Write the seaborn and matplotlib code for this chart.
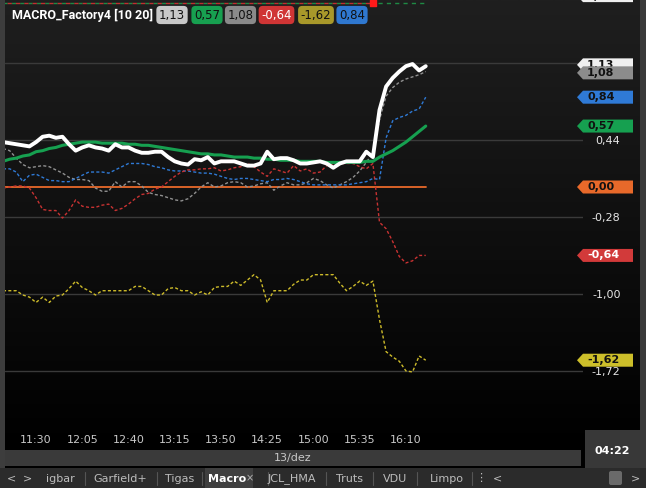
import numpy as np
import matplotlib
matplotlib.use("Agg")
import matplotlib.pyplot as plt
import seaborn as sns
from matplotlib.patches import Polygon, Rectangle, FancyBboxPatch
from matplotlib.colors import LinearSegmentedColormap
from matplotlib.transforms import blended_transform_factory

# ---------------- data ----------------
start_min = 11 * 60 + 5          # first 5-min bar 11:05
bar_step = 5
tick_labels = ["11:30", "12:05", "12:40", "13:15", "13:50", "14:25", "15:00", "15:35", "16:10"]
date_label = "13/dez"
clock_label = "04:22"
title = "MACRO_Factory4 [10 20]"

white = [0.42, 0.41, 0.40, 0.39, 0.38, 0.42, 0.47, 0.48, 0.46, 0.47,
         0.40, 0.34, 0.37, 0.39, 0.37, 0.36, 0.34, 0.40, 0.37, 0.37,
         0.34, 0.32, 0.32, 0.33, 0.33, 0.28, 0.24, 0.22, 0.21, 0.26,
         0.25, 0.28, 0.22, 0.24, 0.24, 0.24, 0.22, 0.20, 0.20, 0.22,
         0.33, 0.26, 0.27, 0.27, 0.25, 0.22, 0.22, 0.23, 0.24, 0.22,
         0.18, 0.22, 0.24, 0.24, 0.24, 0.33, 0.28, 0.72, 0.94, 1.02,
         1.08, 1.13, 1.15, 1.09, 1.13]
green = [0.24, 0.26, 0.27, 0.29, 0.30, 0.33, 0.34, 0.36, 0.37, 0.39,
         0.40, 0.41, 0.42, 0.42, 0.42, 0.41, 0.41, 0.41, 0.41, 0.40,
         0.40, 0.39, 0.39, 0.38, 0.37, 0.36, 0.35, 0.34, 0.33, 0.32,
         0.31, 0.31, 0.30, 0.30, 0.29, 0.28, 0.28, 0.28, 0.27, 0.27,
         0.26, 0.26, 0.25, 0.25, 0.25, 0.24, 0.24, 0.24, 0.24, 0.23,
         0.23, 0.23, 0.23, 0.23, 0.23, 0.24, 0.24, 0.28, 0.31, 0.34,
         0.38, 0.42, 0.47, 0.52, 0.57]
gray = [0.36, 0.34, 0.27, 0.21, 0.18, 0.19, 0.20, 0.19, 0.16, 0.13,
        0.09, 0.07, 0.07, 0.06, -0.01, -0.04, -0.04, 0.05, 0.00, 0.05,
        0.05, 0.01, -0.05, -0.07, -0.08, -0.10, -0.12, -0.13, -0.11, -0.06,
        0.00, 0.04, 0.00, 0.01, 0.04, 0.05, 0.04, 0.00, 0.01, 0.03,
        0.04, -0.03, 0.01, 0.04, 0.02, 0.02, 0.04, 0.08, 0.06, 0.02,
        -0.01, 0.02, 0.05, 0.09, 0.15, 0.23, 0.32, 0.63, 0.85, 0.93,
        0.98, 1.01, 1.03, 1.05, 1.08]
red = [-0.01, 0.00, 0.01, 0.01, -0.01, -0.10, -0.21, -0.22, -0.22, -0.29,
       -0.22, -0.12, -0.18, -0.19, -0.19, -0.17, -0.16, -0.22, -0.20, -0.16,
       -0.11, -0.07, -0.06, -0.02, 0.00, 0.05, 0.10, 0.14, 0.16, 0.16,
       0.17, 0.17, 0.18, 0.15, 0.16, 0.18, 0.19, 0.22, 0.19, 0.14,
       0.10, 0.17, 0.15, 0.13, 0.20, 0.15, 0.17, 0.13, 0.14, 0.20,
       0.22, 0.22, 0.22, 0.22, 0.19, 0.17, 0.22, -0.33, -0.39, -0.51,
       -0.65, -0.71, -0.69, -0.64, -0.64]
blue = [0.17, 0.17, 0.14, 0.05, 0.11, 0.12, 0.09, 0.06, 0.06, 0.05,
        0.05, 0.08, 0.11, 0.14, 0.14, 0.14, 0.13, 0.16, 0.19, 0.22,
        0.22, 0.22, 0.21, 0.19, 0.18, 0.16, 0.15, 0.15, 0.15, 0.14,
        0.13, 0.13, 0.12, 0.10, 0.08, 0.07, 0.08, 0.08, 0.07, 0.06,
        0.05, 0.07, 0.07, 0.08, 0.07, 0.05, 0.03, 0.02, 0.02, 0.02,
        0.02, 0.02, 0.02, 0.03, 0.04, 0.05, 0.08, 0.07, 0.46, 0.62,
        0.65, 0.67, 0.71, 0.73, 0.84]
yellow = [-0.97, -0.97, -0.97, -1.01, -1.03, -1.08, -1.03, -1.08, -1.02, -1.01,
          -0.95, -0.88, -0.94, -0.97, -1.01, -0.97, -0.97, -0.97, -0.97, -0.97,
          -0.93, -0.93, -0.97, -1.01, -1.01, -0.95, -0.94, -0.97, -0.97, -1.01,
          -0.98, -1.01, -0.94, -0.93, -0.93, -0.88, -0.92, -0.87, -0.82, -0.87,
          -1.08, -0.97, -0.97, -0.97, -0.91, -0.87, -0.87, -0.82, -0.82, -0.82,
          -0.82, -0.90, -0.97, -0.93, -0.88, -0.92, -0.88, -1.24, -1.54, -1.59,
          -1.63, -1.72, -1.73, -1.58, -1.62]
zero_level = 0.0
top_level = 1.72          # dashed level line at top
top_marker_index = 56     # red marker on the top line
top_tag_value = 1.79      # tag mostly above the view
ytick_values = [1.16, 0.44, -0.28, -1.00, -1.72]

n = len(white)
times = start_min + bar_step * np.arange(n)
tick_times = [int(s[:2]) * 60 + int(s[3:]) for s in tick_labels]

def fmt(v):
    return f"{v:.2f}".replace(".", ",")

# ---------------- figure ----------------
sns.set_theme(style="dark")
plt.rcParams['font.family'] = ['DejaVu Sans']

W, H = 646, 488
fig = plt.figure(figsize=(W / 100, H / 100), dpi=100)
fig.patch.set_facecolor('#000000')

bg = fig.add_axes([0, 0, 1, 1], zorder=0)
bg.axis('off')
cmap = LinearSegmentedColormap.from_list('g', ['#1f1f1f', '#000000'])
bg.imshow(np.linspace(0, 1, 256).reshape(-1, 1), cmap=cmap, extent=[5, 640, 448, 0],
          aspect='auto', interpolation='bilinear')
# side strips
bg.add_patch(Rectangle((0, 0), 5, 468, fc='#3d3d3d', ec='none'))
bg.add_patch(Rectangle((640, 0), 6, 468, fc='#3a3a3a', ec='none'))
# date bar
bg.add_patch(Rectangle((5, 450), 576, 16, fc='#3a3a3a', ec='none'))
bg.text(293, 458, date_label, color='#c8c8c8', fontsize=8, ha='center', va='center')
# clock box
bg.add_patch(Rectangle((585, 430), 55, 38, fc='#383838', ec='none'))
bg.text(612, 451, clock_label, color='white', fontsize=8, fontweight='bold', ha='center', va='center')
# tab bar
bg.add_patch(Rectangle((0, 468), 646, 20, fc='#2b2b2b', ec='none'))
bg.add_patch(Rectangle((205, 468), 48, 20, fc='#3f3f3f', ec='none'))
tab_items = [(11, "<"), (27, ">"), (60, "igbar"), (120, "Garfield+"), (180, "Tigas"),
             (292, "JCL_HMA"), (349, "Truts"), (395, "VDU"), (447, "Limpo"),
             (481, "⋮"), (497, "<"), (636, ">")]
for x, t in tab_items:
    bg.text(x, 478.5, t, color='#bcbcbc', fontsize=8, ha='center', va='center')
bg.text(208, 478.5, "Macro", color='white', fontsize=8, fontweight='bold', ha='left', va='center')
bg.text(250, 478.5, "×", color='#b4b4b4', fontsize=7, ha='center', va='center')
for x in [85, 157, 202, 268, 326, 373, 417, 472]:
    bg.plot([x, x], [472, 485], color='#555555', lw=0.8)
bg.add_patch(FancyBboxPatch((609, 471), 13, 14, boxstyle='round,pad=0,rounding_size=2',
                            fc='#6a6a6a', ec='none'))
# title and badges
bg.text(12, 15, title, color='white', fontsize=9, fontweight='bold', ha='left', va='center',
        family='Roboto')
badges = [(172, white, '#c8c8c8', '#111111'), (207, green, '#17a050', '#111111'),
          (240.5, gray, '#8a8a8a', '#111111'), (276.5, red, '#d03535', '#ffffff'),
          (316, yellow, '#a8982a', '#111111'), (352, blue, '#2f78d0', '#111111')]
for x, s, fc, tc in badges:
    bg.text(x, 15, fmt(s[-1]), color=tc, fontsize=8.5, ha='center', va='center',
            bbox=dict(boxstyle='round,pad=0.22,rounding_size=0.35', fc=fc, ec='none'))
bg.set_xlim(0, W)
bg.set_ylim(H, 0)

# ---------------- main axes ----------------
ax = fig.add_axes([5 / W, 1 - 428 / H, 578 / W, 428 / H], zorder=1)
ax.set_facecolor('none')
ax.patch.set_alpha(0)

dash = (0, (2.2, 1.6))
# top level line
sns.lineplot(x=times, y=[top_level] * n, ax=ax, color='#1e8a44', lw=1.0, linestyle=(0, (3, 3)))
sns.lineplot(x=times[:top_marker_index + 1], y=[top_level] * (top_marker_index + 1), ax=ax,
             color='#c03030', lw=1.0, linestyle=(3, (3, 3)))
ax.scatter([times[top_marker_index]], [top_level], marker='s', s=22, color='#ff1a1a', zorder=5)

sns.lineplot(x=times, y=[zero_level] * n, ax=ax, color='#e8692a', lw=1.3, zorder=2)
sns.lineplot(x=times, y=yellow, ax=ax, color='#cdbb2a', lw=1.0, linestyle=dash, zorder=3)
sns.lineplot(x=times, y=gray, ax=ax, color='#909090', lw=1.0, linestyle=dash, zorder=3)
sns.lineplot(x=times, y=blue, ax=ax, color='#2f7ad6', lw=1.0, linestyle=dash, zorder=3)
sns.lineplot(x=times, y=red, ax=ax, color='#c83232', lw=1.0, linestyle=dash, zorder=3)
sns.lineplot(x=times, y=green, ax=ax, color='#16a050', lw=2.2, zorder=4)
sns.lineplot(x=times, y=white, ax=ax, color='#ffffff', lw=2.8, zorder=5)

x0 = start_min + bar_step * 0.3
ylo, yhi = -2.254, 1.749
for s in ax.spines.values():
    s.set_visible(False)
ax.set_yticks(ytick_values)
ax.set_yticklabels([fmt(v) for v in ytick_values])
ax.yaxis.tick_right()
ax.tick_params(axis='y', length=0, pad=27, labelcolor='#e6e6e6', labelsize=8)
for lab in ax.get_yticklabels():
    lab.set_horizontalalignment('right')
ax.set_xticks(tick_times)
ax.set_xticklabels(tick_labels)
ax.tick_params(axis='x', length=0, pad=5, labelcolor='#c8c8c8', labelsize=8)
ax.grid(axis='y', color='#3a3a3a', lw=1)
ax.grid(axis='x', visible=False)
ax.set_xlabel('')
ax.set_ylabel('')

# ---------------- right value tags ----------------
px_per_unit = 428 / (yhi - ylo)
hh = 6.5 / px_per_unit
blend = blended_transform_factory(ax.transAxes, ax.transData)
tags = [(top_tag_value, '#f0f0f0', '#111111'), (white[-1], '#f0f0f0', '#111111'),
        (gray[-1], '#8c8c8c', '#111111'), (blue[-1], '#2f7ad6', '#111111'),
        (green[-1], '#16a050', '#111111'), (zero_level, '#e8692a', '#111111'),
        (red[-1], '#d23a3a', '#ffffff'), (yellow[-1], '#cdbf2a', '#111111')]
pos = [t[0] for t in tags]
min_sep = 8 / px_per_unit
for i in range(len(pos) - 1):
    if abs(pos[i] - pos[i + 1]) < min_sep:
        m = (pos[i] + pos[i + 1]) / 2
        pos[i], pos[i + 1] = m + min_sep / 2, m - min_sep / 2
fx = lambda px: (px - 5) / 578
for (v, fc, tc), p in zip(tags, pos):
    verts = [[fx(577), p], [fx(583), p + hh], [fx(633), p + hh], [fx(633), p - hh], [fx(583), p - hh]]
    ax.add_patch(Polygon(verts, closed=True, transform=blend, fc=fc, ec='none',
                         clip_on=False, zorder=6))
    ax.text(fx(587), p, fmt(v), transform=blend, color=tc, fontsize=8, fontweight='bold',
            ha='left', va='center', clip_on=False, zorder=6)
ax.set_xlim(x0, x0 + 578 / 1.321)
ax.set_ylim(ylo, yhi)

fig.savefig('out.png', dpi=100, facecolor=fig.get_facecolor())
